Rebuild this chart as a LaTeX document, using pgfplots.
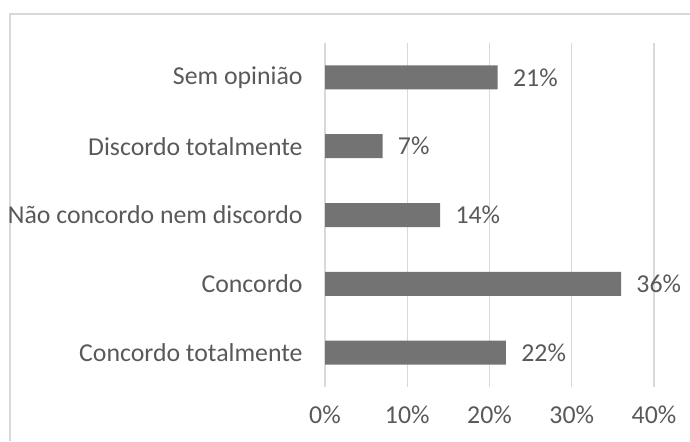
\documentclass[border=0pt]{standalone}
\usepackage{pgfplots}
\pgfplotsset{compat=1.18}
\usepackage{fontspec}
\setmainfont{Carlito}
\definecolor{txt}{HTML}{595959}
\definecolor{barc}{HTML}{737373}
\definecolor{gridc}{HTML}{D9D9D9}
\begin{document}
\begin{tikzpicture}[x=0.5pt,y=-0.5pt]
\path[use as bounding box] (0,0) rectangle (690,441);
\draw[gridc, line width=1pt] (9.5,441) -- (9.5,13.5) -- (690,13.5);
\coordinate (A) at (325,387);
\begin{axis}[
  at={(A)}, anchor=south west,
  width=164.5pt, height=172pt, scale only axis,
  xmin=0, xmax=40, ymin=-0.5, ymax=4.5,
  xbar, bar width=12pt,
  /pgf/number format/assume math mode=true,
  ytick={0,1,2,3,4},
  yticklabels={Concordo totalmente, Concordo, Não concordo nem discordo, Discordo totalmente, Sem opinião},
  xtick={0,10,20,30,40},
  xticklabel={\pgfmathprintnumber{\tick}\%},
  axis line style={draw=none},
  major tick length=0pt,
  xmajorgrids, grid style={gridc, line width=0.75pt},
  tick label style={font=\fontsize{12.9}{15}\selectfont, text=txt},
  yticklabel style={anchor=east, inner sep=0pt, xshift=-11pt},
  xticklabel style={anchor=center, inner sep=0pt, yshift=-14pt},
  nodes near coords={\pgfmathprintnumber{\pgfplotspointmeta}\%},
  point meta=x,
  nodes near coords style={anchor=west, inner sep=0pt, xshift=7.5pt, font=\fontsize{12.9}{15}\selectfont, text=txt},
  clip=false,
]
\addplot[fill=barc, draw=none] coordinates {(22,0) (36,1) (14,2) (7,3) (21,4)};
\end{axis}
\end{tikzpicture}
\end{document}
